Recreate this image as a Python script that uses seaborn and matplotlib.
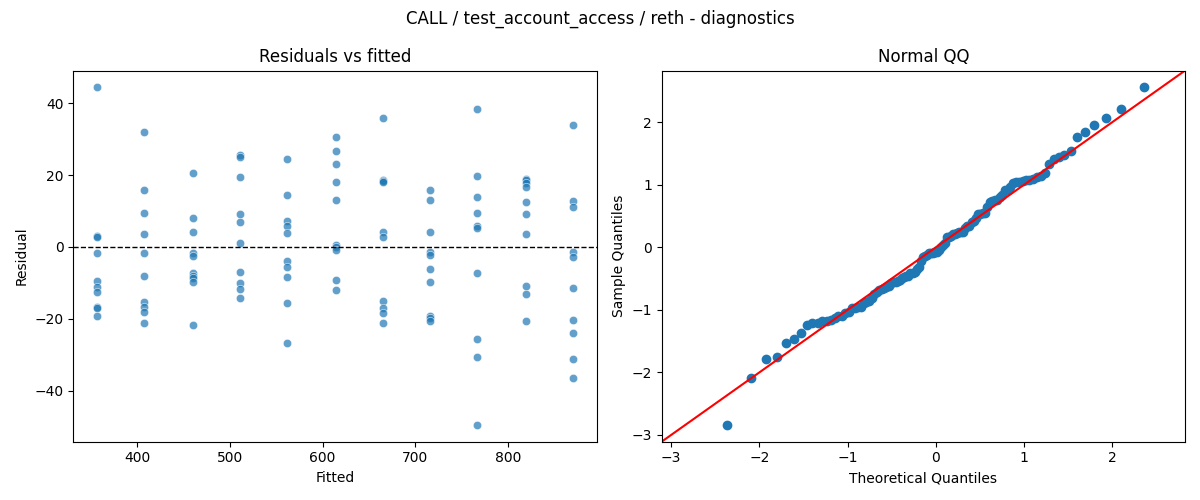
import numpy as np
import pandas as pd
import matplotlib
matplotlib.use("Agg")
import matplotlib.pyplot as plt
import seaborn as sns
from statistics import NormalDist

# ---- data ----
fitted_levels = [357, 408, 460, 511, 562, 614, 665, 716, 767, 819, 870]
res_357 = [44.4, 3.1, 2.9, -1.8, -9.4, -11.2, -12.6, -16.6, -17.0, -19.1]
res_408 = [32.1, 15.8, 9.6, 3.6, -1.8, -8.1, -15.2, -16.6, -18.1, -21.2]
res_460 = [20.7, 8.0, 4.1, -1.8, -2.5, -7.3, -8.2, -8.7, -9.8, -21.8]
res_511 = [25.6, 25.1, 19.4, 9.2, 7.0, 1.0, -7.0, -10.1, -11.8, -14.3]
res_562 = [24.4, 14.4, 7.3, 5.8, 3.8, -4.0, -5.7, -8.4, -15.6, -26.6]
res_614 = [30.5, 26.6, 23.2, 18.0, 13.1, 0.6, 0.1, -0.8, -9.2, -11.9]
res_665 = [36.0, 18.6, 18.3, 18.0, 4.1, 2.9, -15.0, -17.0, -18.4, -21.2]
res_716 = [15.8, 13.1, 4.1, -1.3, -2.2, -6.2, -9.8, -19.2, -19.8, -20.5]
res_767 = [38.5, 19.7, 13.8, 9.6, 5.9, 5.4, -7.3, -25.6, -30.6, -49.5]
res_819 = [18.9, 18.7, 17.7, 16.8, 12.4, 9.2, 3.6, -10.8, -13.1, -20.5]
res_870 = [33.9, 12.9, 11.0, -1.3, -2.7, -11.5, -20.3, -24.0, -31.1, -36.5]
residual_groups = [res_357, res_408, res_460, res_511, res_562, res_614,
                   res_665, res_716, res_767, res_819, res_870]

title = "CALL / test_account_access / reth - diagnostics"

# ---- build table ----
rows = []
for f, grp in zip(fitted_levels, residual_groups):
    for r in grp:
        rows.append((f, r))
df = pd.DataFrame(rows, columns=["fitted", "resid"])

fig, (ax1, ax2) = plt.subplots(1, 2, figsize=(12, 5), dpi=100)

# Residuals vs fitted
sns.scatterplot(data=df, x="fitted", y="resid", ax=ax1, alpha=0.7)
ax1.axhline(0, color="black", linestyle="--", linewidth=1)
ax1.set_title("Residuals vs fitted")
ax1.set_xlabel("Fitted")
ax1.set_ylabel("Residual")

# Normal QQ (standardized residuals)
r = df["resid"].to_numpy()
z = np.sort((r - r.mean()) / r.std())
n = len(z)
nd = NormalDist()
theo = np.array([nd.inv_cdf(i / (n + 1)) for i in range(1, n + 1)])
sns.scatterplot(x=theo, y=z, ax=ax2, s=36, color="#1f77b4",
                edgecolor="#1f77b4", linewidth=1)
xl = ax2.get_xlim()
yl = ax2.get_ylim()
lo = min(xl[0], yl[0])
hi = max(xl[1], yl[1])
ax2.plot([lo, hi], [lo, hi], color="red")
ax2.set_xlim(lo, hi)
ax2.set_ylim(lo, hi)
ax2.set_title("Normal QQ")
ax2.set_xlabel("Theoretical Quantiles")
ax2.set_ylabel("Sample Quantiles")

fig.suptitle(title)
fig.tight_layout()
fig.savefig("out.png", dpi=100)
